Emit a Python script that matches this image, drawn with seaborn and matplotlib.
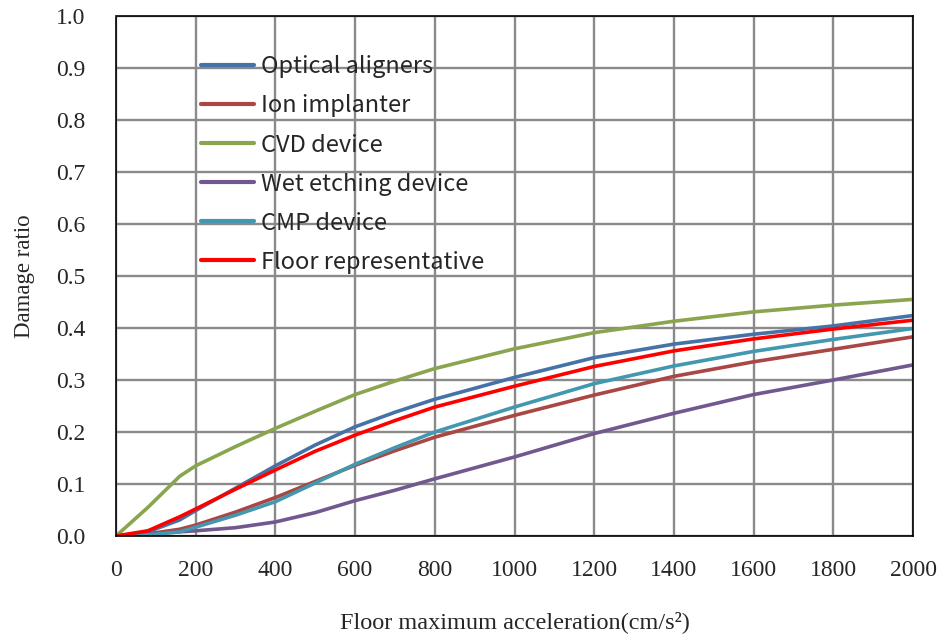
import matplotlib
matplotlib.use("Agg")
import matplotlib.pyplot as plt
import seaborn as sns
import pandas as pd

accel = [0, 80, 160, 200, 300, 400, 500, 600, 700, 800, 1000, 1200, 1400, 1600, 1800, 2000]
optical = [0, 0.008, 0.031, 0.049, 0.092, 0.135, 0.175, 0.210, 0.238, 0.263, 0.305, 0.343, 0.369, 0.388, 0.404, 0.424]
ion = [0, 0.004, 0.013, 0.021, 0.046, 0.074, 0.105, 0.136, 0.164, 0.190, 0.232, 0.271, 0.307, 0.335, 0.359, 0.383]
cvd = [0, 0.055, 0.115, 0.135, 0.172, 0.207, 0.240, 0.272, 0.298, 0.322, 0.360, 0.391, 0.413, 0.431, 0.444, 0.455]
wet = [0, 0.004, 0.008, 0.010, 0.016, 0.027, 0.045, 0.068, 0.088, 0.110, 0.152, 0.197, 0.236, 0.272, 0.300, 0.329]
cmp_ = [0, 0.002, 0.008, 0.017, 0.040, 0.066, 0.102, 0.138, 0.170, 0.200, 0.248, 0.293, 0.327, 0.355, 0.378, 0.399]
floor = [0, 0.010, 0.037, 0.052, 0.090, 0.127, 0.163, 0.194, 0.222, 0.248, 0.288, 0.326, 0.356, 0.379, 0.398, 0.415]

names = ["Optical aligners", "Ion implanter", "CVD device", "Wet etching device", "CMP device", "Floor representative"]
series = [optical, ion, cvd, wet, cmp_, floor]
colors = ["#4572A7", "#AA4643", "#89A54E", "#71588F", "#4198AF", "#FF0000"]

rows = []
for n, s in zip(names, series):
    for x, y in zip(accel, s):
        rows.append({"accel": x, "ratio": y, "series": n})
df = pd.DataFrame(rows)

sns.set_style("white")
plt.rcParams["font.family"] = ["Liberation Serif", "DejaVu Serif"]

fig = plt.figure(figsize=(9.44, 6.39), dpi=100)
ax = fig.add_axes([0.1229, 0.1612, 0.8443, 0.8138])

sns.lineplot(data=df, x="accel", y="ratio", hue="series", hue_order=names,
             palette=dict(zip(names, colors)), linewidth=2.6, ax=ax, legend=True)

ax.set_xlim(0, 2000)
ax.set_ylim(0, 1.0)
ax.set_xticks(range(0, 2001, 200))
ax.set_yticks([i / 10 for i in range(11)])
ax.set_yticklabels([f"{i/10:.1f}" for i in range(11)])
ax.grid(True, color="#8a8a8a", linewidth=1.7)
ax.set_axisbelow(True)
for side in ["top", "right"]:
    ax.spines[side].set_color("black")
    ax.spines[side].set_linewidth(1.2)
for side in ["left", "bottom"]:
    ax.spines[side].set_color("black")
    ax.spines[side].set_linestyle((0, (1, 1)))
    ax.spines[side].set_linewidth(1.2)
ax.tick_params(axis="both", which="both", direction="out", length=6, width=1, color="#aaaaaa",
               labelsize=17)
ax.tick_params(axis="y", pad=16)
ax.tick_params(axis="x", pad=11)
ax.set_xlabel("Floor maximum acceleration(cm/s²)", fontsize=17.5, labelpad=22)
ax.set_ylabel("Damage ratio", fontsize=16.5, labelpad=15)

leg = ax.legend(loc="upper left", bbox_to_anchor=(0.08, 0.965), frameon=False,
                prop={"family": ["Noto Sans CJK JP", "DejaVu Sans"], "size": 17},
                handlelength=2.25, handletextpad=0.3, labelspacing=0.68)
for h in leg.get_lines():
    h.set_linewidth(3)

fig.savefig("out.png", dpi=100)
